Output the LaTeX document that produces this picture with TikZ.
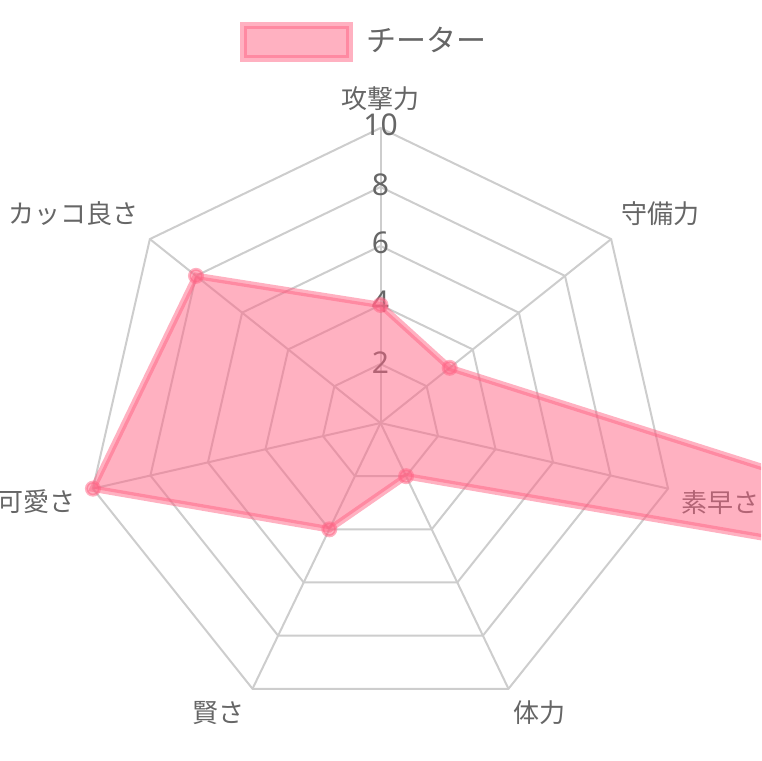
\documentclass[tikz,border=0pt]{standalone}
\usepackage{fontspec}
\usetikzlibrary{calc}
\newfontfamily\jpfont{Noto Sans CJK JP}
\newfontfamily\numfont{Noto Sans}
\definecolor{txt}{RGB}{102,102,102}
\definecolor{gridc}{RGB}{205,205,205}
\definecolor{pinkc}{RGB}{255,99,132}
\tikzset{
  ticklbl/.style={font=\numfont\fontsize{30}{30}\selectfont, text=txt, inner sep=0pt, anchor=base},
  axlbl/.style={font=\jpfont\fontsize{26}{26}\selectfont, text=txt, inner sep=0pt},
  leglbl/.style={font=\jpfont\fontsize{30}{30}\selectfont, text=txt, inner sep=0pt, anchor=base west},
  gridline/.style={draw=gridc, line width=2pt},
  datafill/.style={fill=pinkc, fill opacity=0.5},
  dataline/.style={draw=pinkc, draw opacity=0.5, line width=6.5pt, line join=miter},
  datapoint/.style={circle, fill=pinkc, fill opacity=0.5, draw=pinkc, draw opacity=0.5, line width=3pt, minimum size=13pt, inner sep=0pt},
  legbox/.style={fill=pinkc, fill opacity=0.5, draw=pinkc, draw opacity=0.5, line width=7pt},
}
\begin{document}
\begin{tikzpicture}[x=1pt,y=-1pt]
\useasboundingbox (0,0) rectangle (761,761);
\clip (0,0) rectangle (761,761);
\coordinate (c) at (380.5,423);
% grid coordinates
\foreach \i in {0,...,6} {
  \pgfmathsetmacro\ang{-90+\i*360/7}
  \foreach \k in {1,...,5} {
    \pgfmathsetmacro\rad{\k*59}
    \coordinate (g\k-\i) at ($(c)+(\ang:\rad)$);
  }
}
% rings
\foreach \k in {1,...,5}
  \draw[gridline] (g\k-0) -- (g\k-1) -- (g\k-2) -- (g\k-3) -- (g\k-4) -- (g\k-5) -- (g\k-6) -- cycle;
% spokes
\foreach \i in {0,...,6}
  \draw[gridline] (c) -- (g5-\i);
% tick labels
\node[ticklbl] (t10) at (380.5,135) {10};
\node[ticklbl] (t8) at (380.5,195) {8};
\node[ticklbl] (t6) at (380.5,253.5) {6};
\node[ticklbl] (t4) at (380.5,312.5) {4};
\node[ticklbl] (t2) at (380.5,373) {2};
% axis labels
\node[axlbl, anchor=base] (l0) at (380.5,108) {攻撃力};
\node[axlbl, anchor=base west] (l1) at (621.5,223) {守備力};
\node[axlbl, anchor=base west] (l2) at (681.5,512) {素早さ};
\node[axlbl, anchor=base west] (l3) at (513.5,722) {体力};
\node[axlbl, anchor=base east] (l4) at (244.5,722) {賢さ};
\node[axlbl, anchor=base east] (l5) at (76,511) {可愛さ};
\node[axlbl, anchor=base east] (l6) at (138.5,223) {カッコ良さ};
% legend
\path[legbox] (243.5,25.8) rectangle (349.2,58.2);
\node[leglbl] (leg) at (366.5,51) {チーター};
% data
\foreach \v [count=\j from 0] in {4,3,30,2,4,10,8} {
  \pgfmathsetmacro\ang{-90+\j*360/7}
  \pgfmathsetmacro\rad{\v*29.5}
  \coordinate (d\j) at ($(c)+(\ang:\rad)$);
}
\path[datafill] (d0) -- (d1) -- (d2) -- (d3) -- (d4) -- (d5) -- (d6) -- cycle;
\path[dataline] (d0) -- (d1) -- (d2) -- (d3) -- (d4) -- (d5) -- (d6) -- cycle;
\foreach \j in {0,...,6}
  \node[datapoint] (p\j) at (d\j) {};
\end{tikzpicture}
\end{document}
